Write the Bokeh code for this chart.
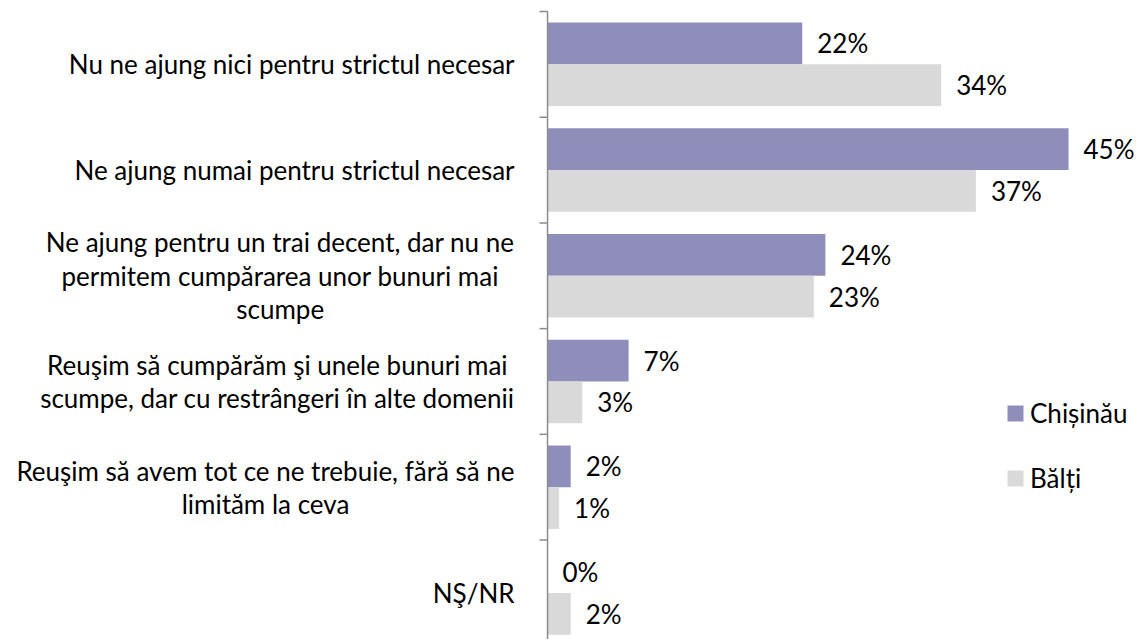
from bokeh.plotting import figure
from bokeh.models import Range1d, Legend, LegendItem, ColumnDataSource
from bokeh.core.properties import value
from bokeh.embed import file_html
from bokeh.resources import INLINE

# ---- data ----
categories = [
    "Nu ne ajung nici pentru strictul necesar",
    "Ne ajung numai pentru strictul necesar",
    "Ne ajung pentru un trai decent, dar nu ne\npermitem cumpărarea unor bunuri mai\nscumpe",
    "Reuşim să cumpărăm şi unele bunuri mai\nscumpe, dar cu restrângeri în alte domenii",
    "Reuşim să avem tot ce ne trebuie, fără să ne\nlimităm la ceva",
    "NŞ/NR",
]
chisinau = [22, 45, 24, 7, 2, 0]
balti = [34, 37, 23, 3, 1, 2]
series_names = ["Chișinău", "Bălți"]

# ---- style ----
FONT = "Lato"
FSIZE = "26px"
C_CHIS = "#8F8EBA"
C_BALTI = "#D9D9D9"
AXIS_C = "#8C8C8C"
BAR_H = 0.395
OFF = 0.1975

n = len(categories)
idx = list(range(n))

src_ch = ColumnDataSource(dict(
    y=[i + 0.5 - OFF for i in idx], v=chisinau,
    lbl=[f"{v}%" for v in chisinau]))
src_ba = ColumnDataSource(dict(
    y=[i + 0.5 + OFF for i in idx], v=balti,
    lbl=[f"{v}%" for v in balti]))
src_cat = ColumnDataSource(dict(y=[i + 0.5 for i in idx], t=categories))

p = figure(width=1136, height=639, output_backend="svg", toolbar_location=None,
           x_range=Range1d(-47.25, 50.87), y_range=Range1d(5.941, -0.104),
           min_border=0, outline_line_color=None)
p.xaxis.visible = False
p.yaxis.visible = False
p.xgrid.visible = False
p.ygrid.visible = False
p.background_fill_color = "white"
p.border_fill_color = "white"

r_ch = p.hbar(y="y", left=0, right="v", height=BAR_H, source=src_ch,
              fill_color=C_CHIS, line_color=None)
r_ba = p.hbar(y="y", left=0, right="v", height=BAR_H, source=src_ba,
              fill_color=C_BALTI, line_color=None)

# axis line and tick marks at category boundaries
p.segment(x0=0, y0=0, x1=0, y1=n, line_color=AXIS_C, line_width=1.5)
p.ray(x=0, y=list(range(n + 1)), length=8, length_units="screen", angle=3.14159265,
      line_color=AXIS_C, line_width=1.5)

# value labels
for s in (src_ch, src_ba):
    p.text(x="v", y="y", text="lbl", source=s, x_offset=15,
           text_align="left", text_baseline="middle",
           text_font=value(FONT), text_font_size=FSIZE, text_color="#000000")

# category labels
p.text(x=0, y="y", text="t", source=src_cat, x_offset=-33,
       anchor=value("center_right"), text_align="center", text_baseline="middle",
       text_line_height=1.04,
       text_font=value(FONT), text_font_size=FSIZE, text_color="#000000")

legend = Legend(items=[LegendItem(label=series_names[0], renderers=[r_ch]),
                       LegendItem(label=series_names[1], renderers=[r_ba])],
                location=(1005, 145), orientation="vertical",
                glyph_width=20, glyph_height=20, label_standoff=5, spacing=33,
                padding=0, margin=0, border_line_color=None,
                background_fill_alpha=0,
                label_text_font=FONT, label_text_font_size=FSIZE,
                label_text_color="#000000")
p.add_layout(legend)

open("out.html", "w").write(file_html(p, INLINE))
